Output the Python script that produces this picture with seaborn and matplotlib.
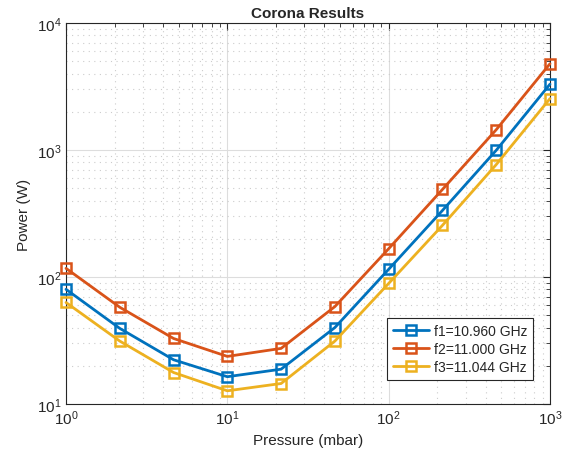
import numpy as np
import pandas as pd
import matplotlib
matplotlib.use("Agg")
import matplotlib.pyplot as plt
import seaborn as sns
from matplotlib.ticker import LogLocator, NullFormatter

pressure = [1.0, 2.154, 4.642, 10.0, 21.54, 46.42, 100.0, 215.4, 464.2, 1000.0]
f1 = [80, 39.4, 22.3, 16.4, 18.8, 40, 115, 334, 995, 3300]
f2 = [117, 57.8, 32.8, 23.7, 27.4, 58.5, 167, 489, 1445, 4780]
f3 = [63, 31.3, 17.7, 12.7, 14.5, 31.3, 89, 255, 768, 2540]
labels = ["f1=10.960 GHz", "f2=11.000 GHz", "f3=11.044 GHz"]
colors = ["#0072BD", "#D95319", "#EDB120"]

sns.set_style("white")
plt.rcParams['font.family'] = ['Liberation Sans', 'DejaVu Sans']

df = pd.concat([
    pd.DataFrame({"Pressure": pressure, "Power": vals, "Series": lab})
    for vals, lab in zip([f1, f2, f3], labels)
])

fig = plt.figure(figsize=(5.68, 4.60), dpi=100)
ax = fig.add_axes([66/568, 55/460, 484/568, 381/460])

for lab, col in zip(labels, colors):
    sub = df[df["Series"] == lab]
    sns.lineplot(data=sub, x="Pressure", y="Power", ax=ax, color=col, label=lab,
                 linewidth=2, marker="s", markersize=6.5, markerfacecolor="none",
                 markeredgecolor=col, markeredgewidth=1.8, clip_on=False, zorder=3)

ax.set_xscale("log")
ax.set_yscale("log")
ax.set_xlim(1, 1000)
ax.set_ylim(10, 10000)
ax.xaxis.set_major_locator(LogLocator(base=10, numticks=10))
ax.yaxis.set_major_locator(LogLocator(base=10, numticks=10))
ax.xaxis.set_minor_locator(LogLocator(base=10, subs=np.arange(2, 10), numticks=20))
ax.yaxis.set_minor_locator(LogLocator(base=10, subs=np.arange(2, 10), numticks=20))
ax.xaxis.set_minor_formatter(NullFormatter())
ax.yaxis.set_minor_formatter(NullFormatter())

ax.grid(True, which="major", color="#dddddd", linestyle="-", linewidth=0.8)
ax.grid(True, which="minor", color="#cccccc", linestyle=(0, (1, 4)), linewidth=0.8)
ax.set_axisbelow(True)

ax.tick_params(which="both", direction="in", top=True, right=True, colors="#262626",
               labelsize=11)
ax.tick_params(which="major", length=5, width=0.8)
ax.tick_params(which="minor", length=3, width=0.6)
for sp in ax.spines.values():
    sp.set_color("#262626")
    sp.set_linewidth(0.8)

ax.set_xlabel("Pressure (mbar)", fontsize=11, color="#262626")
ax.set_ylabel("Power (W)", fontsize=11, color="#262626")
ax.set_title("Corona Results", fontsize=11, fontweight="bold", pad=4)

leg = ax.legend(loc="lower right", bbox_to_anchor=(0.98, 0.045), fontsize=10,
                frameon=True, fancybox=False, edgecolor="#262626", framealpha=1,
                handlelength=2.6, borderpad=0.4, labelspacing=0.3, handletextpad=0.4)
leg.get_frame().set_linewidth(0.8)

fig.savefig("out.png", dpi=100)
